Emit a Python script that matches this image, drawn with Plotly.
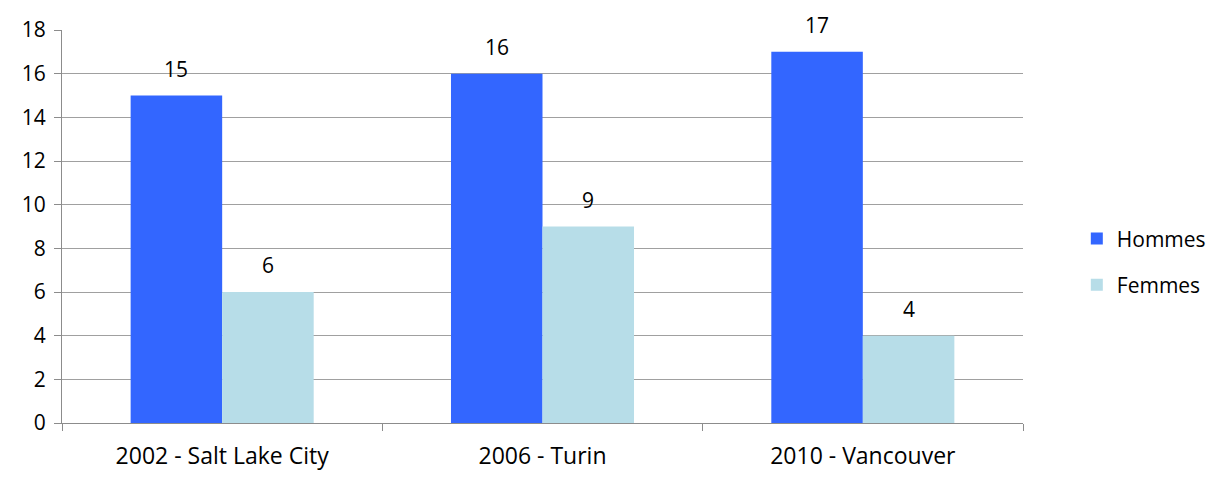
import plotly.graph_objects as go

categories = ["2002 - Salt Lake City", "2006 - Turin", "2010 - Vancouver"]
hommes = [15, 16, 17]
femmes = [6, 9, 4]

series = [("Hommes", hommes, "#3366FF"), ("Femmes", femmes, "#B7DDE8")]

font_name = "'Open Sans', Lato, sans-serif"
bargap = 1.5 / 3.5
bar_w = (1 - bargap) / 2

fig = go.Figure()
for i, (name, vals, color) in enumerate(series):
     fig.add_trace(go.Bar(x=categories, y=vals, name=name, marker_color=color,
                          marker_line_width=0, legendgroup=name))
     # data labels above each bar, like Excel puts them
     offset = (i - 0.5) * bar_w
     for k, v in enumerate(vals):
          fig.add_annotation(x=k + offset, y=v, text=str(v), showarrow=False,
                             yanchor="middle", yshift=27,
                             font=dict(size=21, color="#000000", family=font_name))

# page body has an 8px margin, so the figure is 8px smaller than the window
fig.update_layout(
     width=1212, height=469,
     barmode="group", bargap=bargap, bargroupgap=0,
     plot_bgcolor="white", paper_bgcolor="white",
     margin=dict(l=54, r=197, t=22, b=54, autoexpand=False),
     font=dict(family=font_name, size=21, color="#000000"),
     legend=dict(x=1.056, xanchor="left", y=0.41, yanchor="middle",
                 font=dict(size=21), tracegroupgap=16, itemwidth=30,
                 bgcolor="rgba(0,0,0,0)"),
     showlegend=True,
)

fig.update_xaxes(showline=True, linecolor="#8C8C8C", linewidth=1, automargin=False,
                 ticks="outside", tickson="boundaries", ticklen=7, tickcolor="#8C8C8C",
                 ticklabelstandoff=12, tickfont=dict(size=23),
                 showgrid=False, zeroline=False)
fig.update_yaxes(range=[0, 18], dtick=2, showline=True, linecolor="#8C8C8C", linewidth=1,
                 automargin=False,
                 ticks="outside", ticklen=7, tickcolor="#8C8C8C", ticklabelstandoff=4,
                 tickfont=dict(size=21),
                 showgrid=True, gridcolor="#A0A0A0", gridwidth=1, zeroline=False)

fig.write_html("out.html")
